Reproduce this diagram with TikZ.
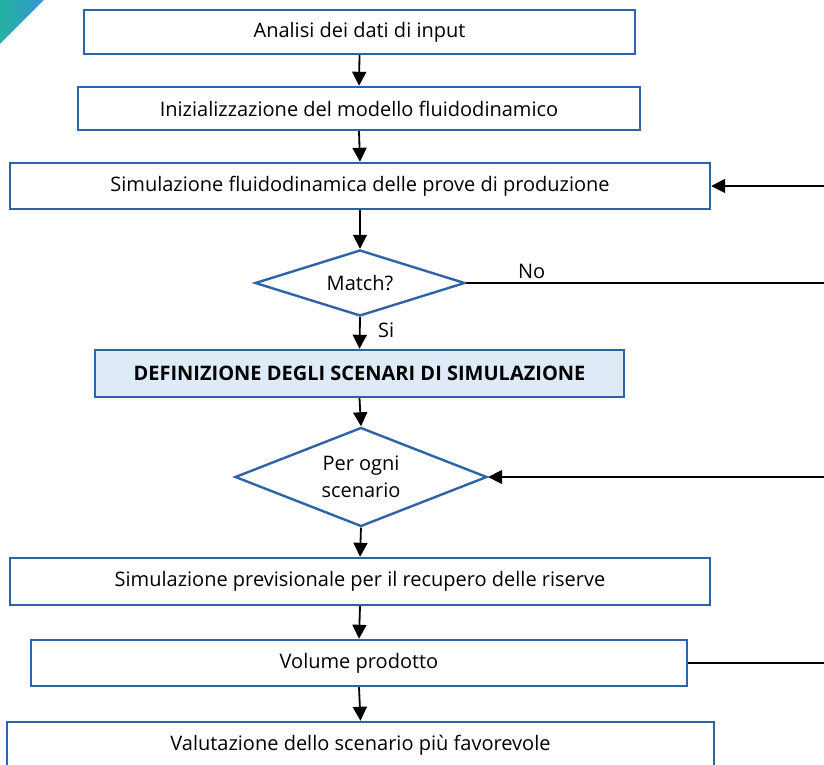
\documentclass[tikz,border=0pt]{standalone}
\usepackage{fontspec}
\setmainfont{Open Sans}
\usetikzlibrary{shapes.geometric,arrows.meta}
\definecolor{boxblue}{RGB}{46,100,166}
\definecolor{paleblue}{RGB}{222,234,246}
\definecolor{cornerteal}{RGB}{38,178,160}
\definecolor{cornerblue}{RGB}{48,150,214}
\begin{document}
\begin{tikzpicture}[x=1pt,y=-1pt,
  txt/.style={font=\fontsize{20}{27}\selectfont,text=black},
  stepbox/.style={txt,draw=boxblue,line width=2.4pt,rectangle,inner sep=0pt},
  keybox/.style={stepbox,fill=paleblue,font=\fontsize{20}{27}\selectfont\bfseries},
  choice/.style={draw=boxblue,line width=2.4pt,diamond,inner sep=0pt},
  flow/.style={line width=1.8pt,-{Triangle[length=14pt,width=14pt]}},
  link/.style={line width=1.8pt}]
\clip (0,0) rectangle (824,765);

% decorative corner
\shade[left color=cornerteal,right color=cornerblue] (0,0) -- (44,0) -- (0,44) -- cycle;

% process steps
\node[stepbox,minimum width=551pt,minimum height=44pt] (b1) at (359.5,32) {Analisi dei dati di input};
\node[stepbox,minimum width=562pt,minimum height=43pt] (b2) at (359,108.5) {Inizializzazione del modello fluidodinamico};
\node[stepbox,minimum width=700pt,minimum height=46pt] (b3) at (360,186) {Simulazione fluidodinamica delle prove di produzione};
\node[choice,minimum width=210pt,minimum height=66pt] (d1) at (360,283) {};
\node[txt] (d1t) at (d1.center) {Match?};
\node[keybox,minimum width=529pt,minimum height=47pt] (b4) at (359.5,373.5) {DEFINIZIONE DEGLI SCENARI DI SIMULAZIONE};
\node[choice,minimum width=252pt,minimum height=99pt] (d2) at (361,477) {};
\node[txt,align=center] (d2t) at (d2.center) {Per ogni\\scenario};
\node[stepbox,minimum width=700pt,minimum height=47pt] (b5) at (360,581.5) {Simulazione previsionale per il recupero delle riserve};
\node[stepbox,minimum width=656pt,minimum height=46pt] (b6) at (359,663) {Volume prodotto};
\node[stepbox,minimum width=707pt,minimum height=46pt] (b7) at (360.5,745) {Valutazione dello scenario più favorevole};

% return paths leaving to the right
\coordinate (r0) at (830,186);
\coordinate (r1) at (830,283);
\coordinate (r2) at (830,477);
\coordinate (r3) at (830,663);

% main flow
\draw[flow] (b1.south) -- (b2.north);
\draw[flow] (b2.south) -- (b3.north);
\draw[flow] (b3.south) -- (d1.north);
\draw[flow] (d1.south) -- node[txt,right=14pt,pos=0.4] {Si} (b4.north);
\draw[flow] (b4.south) -- (d2.north);
\draw[flow] (d2.south) -- (b5.north);
\draw[flow] (b5.south) -- (b6.north);
\draw[flow] (b6.south) -- (b7.north);

% loops
\draw[link] (d1.east) -- node[txt,above=0pt,pos=0.18] {No} (r1);
\draw[flow] (r0) -- (b3.east);
\draw[flow] (r2) -- (d2.east);
\draw[link] (b6.east) -- (r3);
\end{tikzpicture}
\end{document}
